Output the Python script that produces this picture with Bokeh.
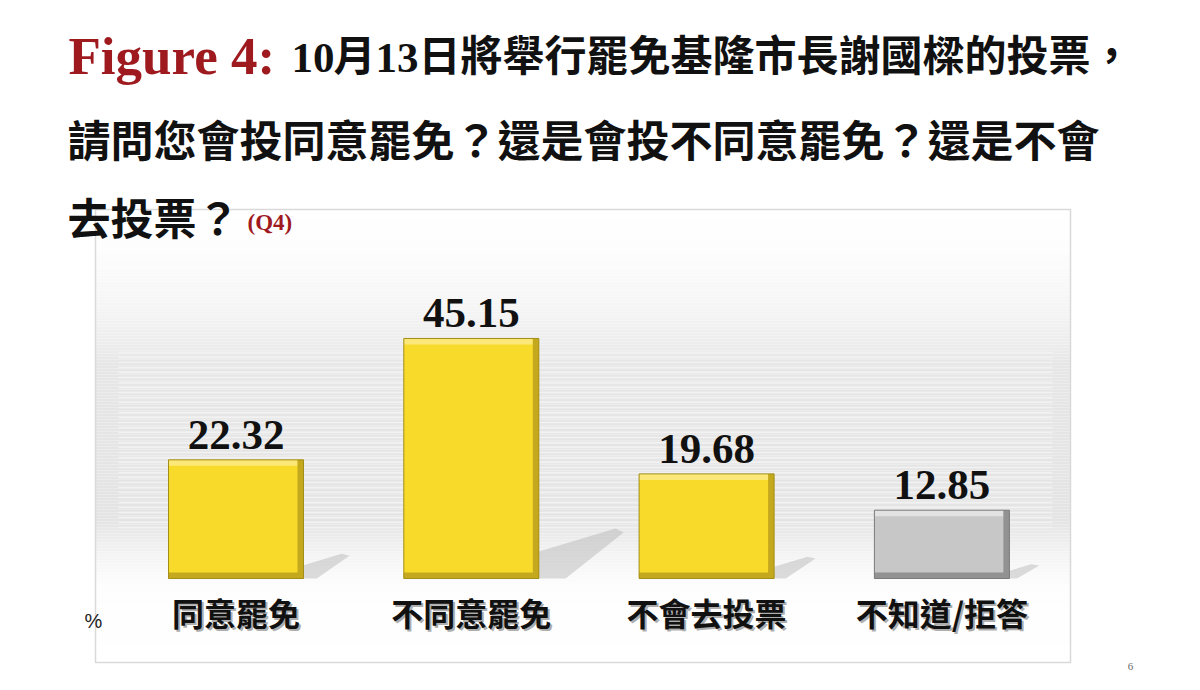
import numpy as np
from bokeh.plotting import figure
from bokeh.models import Range1d
from bokeh.core.properties import value
from bokeh.embed import file_html
from bokeh.resources import INLINE

# ---------------- data ----------------
categories = ["同意罷免", "不同意罷免", "不會去投票", "不知道/拒答"]
values = [22.32, 45.15, 19.68, 12.85]
value_labels = ["22.32", "45.15", "19.68", "12.85"]
bar_fill = ["#F8DA2A", "#F8DA2A", "#F8DA2A", "#C7C7C7"]
bar_light = ["#FBE878", "#FBE878", "#FBE878", "#E2E2E2"]
bar_dark = ["#C4A91E", "#C4A91E", "#C4A91E", "#929292"]
bar_line = ["#A38E16", "#A38E16", "#A38E16", "#7A7A7A"]

title_fig = "Figure 4:"
title_l1 = ["10", "月", "13", "日將舉行罷免基隆市長謝國樑的投票，"]
title_l2 = "請問您會投同意罷免？還是會投不同意罷免？還是不會"
title_l3 = "去投票？"
title_q = "(Q4)"
unit_label = "%"
page_no = "6"

# ---------------- geometry helpers (screen px -> data) ----------------
C0, S = 235.5, 235.3      # first category centre (px), px per category
BASE, K = 578.0, 5.316    # baseline (px), px per percent


def dx(px):
    return (px - C0) / S


def dy(py):
    return (BASE - py) / K


W, H = 1184, 674
p = figure(width=W, height=H, x_range=Range1d(dx(0), dx(W)),
           y_range=Range1d(dy(H), dy(0)), x_axis_type=None, y_axis_type=None,
           toolbar_location=None, output_backend="svg", min_border=0, title=None)
p.outline_line_color = None
p.background_fill_color = "white"
p.border_fill_color = "white"
p.grid.visible = False

# ---------------- chart background box ----------------
bx0, bx1, by0, by1 = 95, 1070, 209, 662
keys_y = [209, 250, 300, 345, 362, 520, 540, 560, 585, 662]
keys_g = [255, 253, 246, 236, 230, 228, 237, 246, 253, 255]
ys = np.arange(by0, by1, 3)
tops, bots, cols = [], [], []
for y in ys:
    g = int(round(np.interp(y + 1.5, keys_y, keys_g)))
    tops.append(dy(y))
    bots.append(dy(min(y + 3, by1)))
    cols.append("#%02x%02x%02x" % (g, g, g))
p.quad(left=dx(bx0), right=dx(bx1), top=tops, bottom=bots, fill_color=cols,
       line_color=None)
# horizontal stripes
sy = np.arange(352, 528, 5)
p.segment(x0=dx(118), x1=dx(1052), y0=[dy(v) for v in sy], y1=[dy(v) for v in sy],
          line_color="#f2f2f2", line_width=1.6)
# box border
p.quad(left=dx(bx0), right=dx(bx1), top=dy(by0), bottom=dy(by1), fill_color=None,
       line_color="#d9d9d9", line_width=1.5)

# ---------------- bars ----------------
xs = list(range(len(categories)))
bw = 135 / S
rights = [x + bw / 2 for x in xs]

# shadows
sh_xs, sh_ys = [], []
for r, v in zip(rights, values):
    L = 0.32 * v * K  # px
    pts = [(0, 0), (0, -0.35 * L), (L, -0.65 * L), (L + 8, -0.6 * L), (0.35 * L, 0)]
    sh_xs.append([r + a / S for a, b in pts])
    sh_ys.append([-b / K for a, b in pts])
p.patches(xs=sh_xs, ys=sh_ys, fill_color="#a9a9a9", fill_alpha=0.4, line_color=None)

p.vbar(x=xs, top=values, bottom=0, width=bw, fill_color=bar_fill, line_color=None)
# top highlight bevel
p.quad(left=[x - bw / 2 for x in xs], right=[r - 6 / S for r in rights],
       top=values, bottom=[v - 6 / K for v in values], fill_color=bar_light, line_color=None)
# right dark bevel
p.quad(left=[r - 6 / S for r in rights], right=rights, top=values, bottom=0,
       fill_color=bar_dark, line_color=None)
# bottom dark bevel
p.quad(left=[x - bw / 2 for x in xs], right=rights, top=6 / K, bottom=0,
       fill_color=bar_dark, line_color=None)
p.vbar(x=xs, top=values, bottom=0, width=bw, fill_color=None, line_color=bar_line,
       line_width=1)

# value labels
p.text(x=xs, y=values, text=value_labels, text_align="center", text_baseline="middle",
       y_offset=-25, text_font=value("Liberation Serif"), text_font_style="bold",
       text_font_size="43px", text_color="#111111")

# category labels with shadow
cy = dy(611)
p.text(x=xs, y=[cy] * 4, text=categories, text_align="center", text_baseline="middle",
       x_offset=2, y_offset=2, text_font=value("Noto Sans CJK TC"), text_font_style="bold",
       text_font_size="32px", text_color="#8a8a8a", text_alpha=0.7)
p.text(x=xs, y=[cy] * 4, text=categories, text_align="center", text_baseline="middle",
       text_font=value("Noto Sans CJK TC"), text_font_style="bold",
       text_font_size="32px", text_color="#111111")

p.text(x=[dx(93)], y=[dy(620)], text=[unit_label], text_align="center",
       text_baseline="middle", text_font=value("Liberation Sans"),
       text_font_size="20px", text_color="#222222")

# ---------------- titles ----------------
p.text(x=[dx(68)], y=[dy(55)], text=[title_fig], text_align="left",
       text_baseline="middle", text_font=value("Liberation Serif"),
       text_font_style="bold", text_font_size="53px", text_color="#9E1A1F")
l1_x = [291, 333, 375, 418]
l1_serif = [True, False, True, False]
for t, x0, ser in zip(title_l1, l1_x, l1_serif):
    if ser:
        p.text(x=[dx(x0)], y=[dy(57)], text=[t], text_align="left",
               text_baseline="middle", text_font=value("Liberation Serif"),
               text_font_style="bold", text_font_size="43px", text_color="#111111")
    else:
        p.text(x=[dx(x0)], y=[dy(52)], text=[t], text_align="left",
               text_baseline="middle", text_font=value("Noto Sans CJK TC"),
               text_font_style="bold", text_font_size="42px", text_color="#111111")
p.text(x=[dx(67)], y=[dy(137)], text=[title_l2], text_align="left",
       text_baseline="middle", text_font=value("Noto Sans CJK TC"),
       text_font_style="bold", text_font_size="43px", text_color="#111111")
p.text(x=[dx(67)], y=[dy(215)], text=[title_l3], text_align="left",
       text_baseline="middle", text_font=value("Noto Sans CJK TC"),
       text_font_style="bold", text_font_size="43px", text_color="#111111")
p.text(x=[dx(247)], y=[dy(222)], text=[title_q], text_align="left",
       text_baseline="middle", text_font=value("Liberation Serif"),
       text_font_style="bold", text_font_size="23px", text_color="#9E1A1F")

p.text(x=[dx(1130)], y=[dy(666)], text=[page_no], text_align="center",
       text_baseline="middle", text_font=value("Liberation Serif"),
       text_font_size="11px", text_color="#666666")

open("out.html", "w").write(file_html(p, INLINE))
